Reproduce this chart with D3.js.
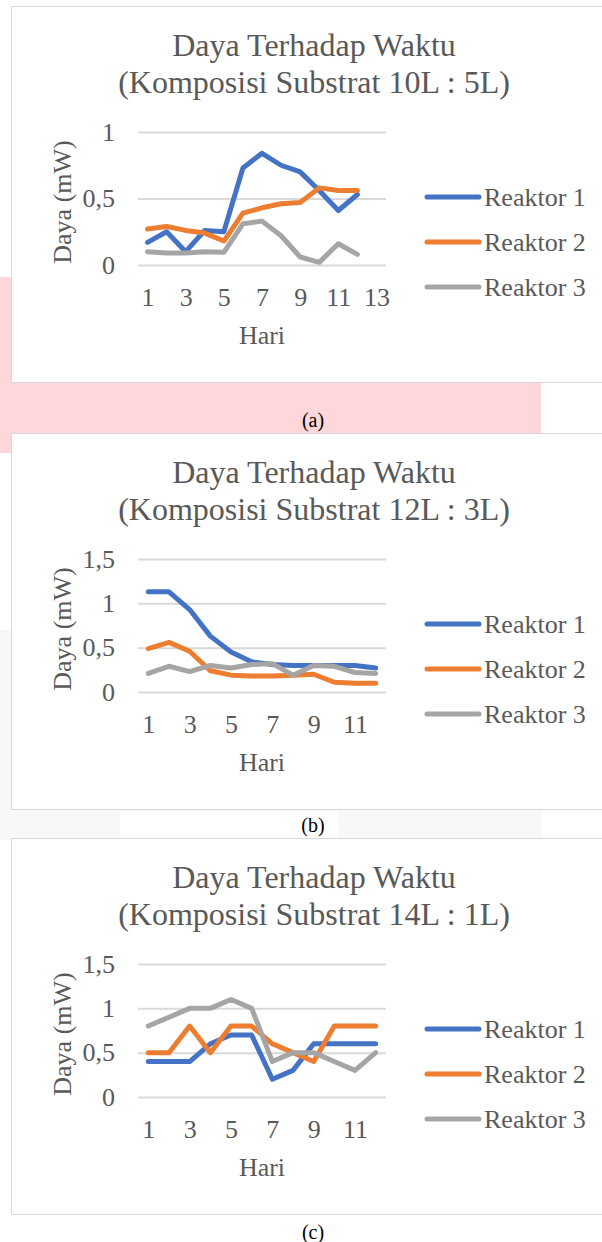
<!DOCTYPE html>
<html>
<head>
<meta charset="utf-8">
<script src="https://cdn.jsdelivr.net/npm/d3@7"></script>
<style>
  body { margin: 0; background: #fff; }
  svg { display: block; }
</style>
</head>
<body>
<script>
// data
var hariA = [1, 2, 3, 4, 5, 6, 7, 8, 9, 10, 11, 12, 13];
var hariBC = [1, 2, 3, 4, 5, 6, 7, 8, 9, 10, 11, 12];
var xTicksA = [1, 3, 5, 7, 9, 11, 13];
var xTicksBC = [1, 3, 5, 7, 9, 11];
var yTicksA = [0, 0.5, 1];
var yTicksBC = [0, 0.5, 1, 1.5];
var seriesNames = ['Reaktor 1', 'Reaktor 2', 'Reaktor 3'];
var seriesColors = ['#4472c4', '#ed7d31', '#a5a5a5'];

var reaktor1A = [0.17, 0.25, 0.10, 0.26, 0.25, 0.73, 0.84, 0.75, 0.70, 0.56, 0.41, 0.53];
var reaktor2A = [0.27, 0.29, 0.26, 0.24, 0.18, 0.39, 0.43, 0.46, 0.47, 0.58, 0.56, 0.56];
var reaktor3A = [0.10, 0.09, 0.09, 0.10, 0.095, 0.31, 0.33, 0.22, 0.06, 0.02, 0.16, 0.08];

var reaktor1B = [1.13, 1.13, 0.93, 0.63, 0.45, 0.34, 0.31, 0.30, 0.30, 0.30, 0.30, 0.27];
var reaktor2B = [0.49, 0.56, 0.46, 0.24, 0.19, 0.18, 0.18, 0.19, 0.20, 0.11, 0.10, 0.10];
var reaktor3B = [0.21, 0.29, 0.23, 0.30, 0.27, 0.31, 0.32, 0.19, 0.30, 0.29, 0.22, 0.21];

var reaktor1C = [0.4, 0.4, 0.4, 0.6, 0.7, 0.7, 0.2, 0.3, 0.6, 0.6, 0.6, 0.6];
var reaktor2C = [0.5, 0.5, 0.8, 0.5, 0.8, 0.8, 0.6, 0.5, 0.4, 0.8, 0.8, 0.8];
var reaktor3C = [0.8, 0.9, 1.0, 1.0, 1.1, 1.0, 0.4, 0.5, 0.5, 0.4, 0.3, 0.5];

var charts = [
  {top: 6, sub: '(Komposisi Substrat 10L : 5L)', cats: hariA, xTicks: xTicksA, yTicks: yTicksA,
   series: [reaktor1A, reaktor2A, reaktor3A], caption: '(a)', capY: 420},
  {top: 433, sub: '(Komposisi Substrat 12L : 3L)', cats: hariBC, xTicks: xTicksBC, yTicks: yTicksBC,
   series: [reaktor1B, reaktor2B, reaktor3B], caption: '(b)', capY: 825},
  {top: 838, sub: '(Komposisi Substrat 14L : 1L)', cats: hariBC, xTicks: xTicksBC, yTicks: yTicksBC,
   series: [reaktor1C, reaktor2C, reaktor3C], caption: '(c)', capY: 1232}
];

var FONT = '"Liberation Serif"';
var textCol = '#595959';
var fmt = function(d) { return String(d).replace('.', ','); };

// helper so every label gets the same serif font
function label(sel, size, col) {
  return sel.attr('font-family', 'Liberation Serif')
      .style('font-family', FONT)
      .style('font-size', size + 'px')
      .attr('fill', col || textCol);
}

var svg = d3.select('body').append('svg')
    .attr('width', 602)
    .attr('height', 1242)
    .attr('font-family', 'Liberation Serif');

// page background tints behind the figures
svg.append('rect').attr('x', 0).attr('y', 277).attr('width', 541).attr('height', 176).attr('fill', '#fdd7da');
svg.append('rect').attr('x', 0).attr('y', 630).attr('width', 541).attr('height', 210).attr('fill', '#f8f8f8');
svg.append('rect').attr('x', 120).attr('y', 811).attr('width', 218).attr('height', 27).attr('fill', '#fff');

charts.forEach(function(c) {
  var g = svg.append('g').attr('transform', 'translate(0,' + c.top + ')');

  // chart box
  g.append('rect')
      .attr('x', 11.5).attr('y', 0.5)
      .attr('width', 620).attr('height', 376)
      .attr('fill', '#fff')
      .attr('stroke', '#d9d9d9');

  // title
  label(g.append('text'), 32).attr('x', 314).attr('y', 39).attr('dy', '0.35em')
      .attr('text-anchor', 'middle')
      .text('Daya Terhadap Waktu');
  label(g.append('text'), 32).attr('x', 314).attr('y', 76).attr('dy', '0.35em')
      .attr('text-anchor', 'middle')
      .text(c.sub);

  var x = d3.scalePoint().domain(c.cats).range([138, 386]).padding(0.5);
  var y = d3.scaleLinear().domain([0, d3.max(c.yTicks)]).range([259, 126]);

  // gridlines + y labels
  var ya = g.append('g').attr('transform', 'translate(138,0)')
      .call(d3.axisLeft(y).tickValues(c.yTicks).tickSize(-248).tickFormat(fmt));
  ya.attr('font-family', 'Liberation Serif');
  ya.select('.domain').remove();
  ya.selectAll('line').attr('stroke', '#d9d9d9').attr('stroke-width', 2);
  label(ya.selectAll('text'), 26).attr('x', -23);

  // x labels
  var xa = g.append('g').attr('transform', 'translate(0,259)')
      .call(d3.axisBottom(x).tickValues(c.xTicks).tickSize(0));
  xa.attr('font-family', 'Liberation Serif');
  xa.select('.domain').remove();
  label(xa.selectAll('text'), 26).attr('y', 32).attr('dy', '0.35em');

  // axis titles
  label(g.append('text'), 26).attr('x', 262).attr('y', 329).attr('dy', '0.35em')
      .attr('text-anchor', 'middle')
      .text('Hari');
  label(g.append('text'), 26)
      .attr('transform', 'translate(62,196) rotate(-90)')
      .attr('dy', '0.35em')
      .attr('text-anchor', 'middle')
      .text('Daya (mW)');

  // lines
  var line = d3.line()
      .x(function(d, i) { return x(c.cats[i]); })
      .y(function(d) { return y(d); });
  g.selectAll('path.seri')
      .data(c.series)
      .enter().append('path')
      .attr('class', 'seri')
      .attr('d', line)
      .attr('fill', 'none')
      .attr('stroke', function(d, i) { return seriesColors[i]; })
      .attr('stroke-width', 5)
      .attr('stroke-linejoin', 'round')
      .attr('stroke-linecap', 'round');

  // legend
  var lg = g.selectAll('g.leg')
      .data(seriesNames)
      .enter().append('g')
      .attr('class', 'leg')
      .attr('transform', function(d, i) { return 'translate(0,' + (191 + i * 45) + ')'; });
  lg.append('line')
      .attr('x1', 427).attr('x2', 479)
      .attr('stroke', function(d, i) { return seriesColors[i]; })
      .attr('stroke-width', 5)
      .attr('stroke-linecap', 'round');
  label(lg.append('text'), 26)
      .attr('x', 484).attr('dy', '0.35em')
      .text(function(d) { return d; });

  // caption under the figure
  label(svg.append('text'), 20, '#000')
      .attr('x', 313).attr('y', c.capY).attr('dy', '0.35em')
      .attr('text-anchor', 'middle')
      .text(c.caption);
});
</script>
</body>
</html>
